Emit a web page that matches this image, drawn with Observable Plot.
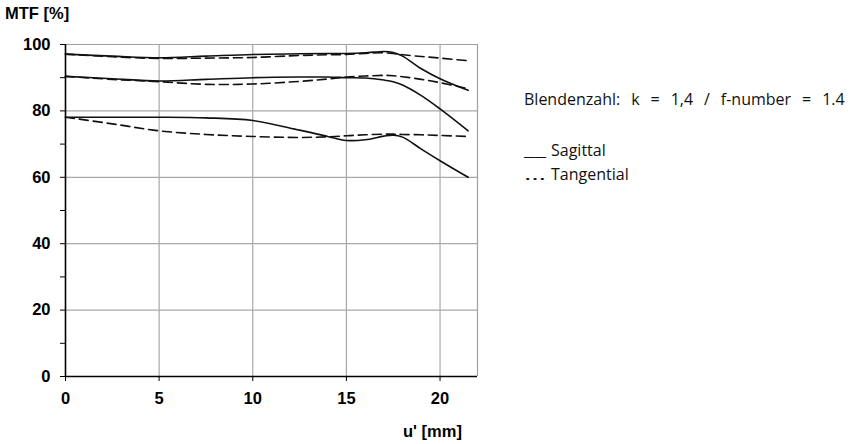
<!DOCTYPE html>
<html><head><meta charset="utf-8">
<script src="https://cdn.jsdelivr.net/npm/d3@7"></script>
<script src="https://cdn.jsdelivr.net/npm/@observablehq/plot@0.6"></script>
<style>
body{margin:0;background:#fff}
#wrap{position:relative;width:855px;height:444px;overflow:hidden}
.t{position:absolute;white-space:nowrap;color:#000;line-height:20px}
.leg{font-family:"Open Sans",sans-serif;font-size:16px;color:#111;word-spacing:6.8px}
.ax{font-family:"Liberation Sans",Arial,sans-serif;font-weight:bold;font-size:16.5px}
.sym{display:inline-block;width:22px;margin-right:5px;word-spacing:0}
.sym span{display:inline-block;transform-origin:0 0}
</style>
</head><body><div id="wrap"></div>
<script>
// image height positions u' [mm]
const u = [0, 2.5, 5, 7.5, 10, 12.5, 14, 15, 16, 17, 17.5, 18, 19, 20, 21.5];
// MTF values [%]
const sag1 = [97.1, 96.5, 96.0, 96.5, 97.0, 97.2, 97.3, 97.3, 97.5, 97.9, 97.6, 96.5, 92.7, 89.7, 86.2];
const tan1 = [97.1, 96.3, 95.8, 95.9, 96.1, 96.7, 96.9, 97.0, 97.3, 97.5, 97.3, 96.9, 96.4, 95.9, 95.1];
const sag2 = [90.4, 89.7, 89.0, 89.5, 90.0, 90.2, 90.2, 90.0, 89.9, 89.3, 88.8, 87.8, 84.6, 80.6, 74.0];
const tan2 = [90.4, 89.5, 88.8, 88.0, 88.1, 88.9, 89.6, 90.2, 90.5, 90.7, 90.6, 90.3, 89.5, 88.5, 86.7];
const sag3 = [78.1, 78.1, 78.1, 77.9, 77.1, 74.2, 72.3, 71.1, 71.3, 72.4, 72.7, 72.1, 68.5, 65.0, 60.0];
const tan3 = [78.1, 76.1, 74.0, 72.9, 72.3, 72.0, 72.2, 72.5, 72.8, 73.0, 73.0, 72.9, 72.8, 72.6, 72.3];

const xTicks = [0, 5, 10, 15, 20];
const xGrid = [5, 10, 15, 20];
const yTicks = [0, 10, 20, 30, 40, 50, 60, 70, 80, 90, 100];
const yGrid = [20, 40, 60, 80];
const xDomain = [0, 22];
const yDomain = [0, 100];

const series = [
  {name: "S1", type: "Sagittal", v: sag1},
  {name: "T1", type: "Tangential", v: tan1},
  {name: "S2", type: "Sagittal", v: sag2},
  {name: "T2", type: "Tangential", v: tan2},
  {name: "S3", type: "Sagittal", v: sag3},
  {name: "T3", type: "Tangential", v: tan3}
];
const rows = series.flatMap(s => s.v.map((y, i) => ({x: u[i], y, name: s.name, type: s.type})));
const sagRows = rows.filter(d => d.type === "Sagittal");
const tanRows = rows.filter(d => d.type === "Tangential");

const chart = Plot.plot({
  width: 855,
  height: 444,
  marginLeft: 65,
  marginRight: 378,
  marginTop: 44,
  marginBottom: 68,
  style: {fontFamily: "'Liberation Sans', Arial, sans-serif", fontSize: "16.5px", fontWeight: "bold", color: "#000", background: "#fff"},
  x: {domain: xDomain},
  y: {domain: yDomain},
  marks: [
    Plot.ruleX(xGrid, {stroke: "#a8a8a8", strokeWidth: 1.2}),
    Plot.ruleY(yGrid, {stroke: "#a8a8a8", strokeWidth: 1.2}),
    Plot.ruleY([yDomain[1]], {stroke: "#a0a0a0", strokeWidth: 1.2}),
    Plot.ruleX([xDomain[1]], {stroke: "#a0a0a0", strokeWidth: 1.2}),
    Plot.axisY({ticks: yTicks, tickSize: 5, tickPadding: 10, tickFormat: d => d % 20 === 0 ? String(d) : "", label: null, stroke: "#000"}),
    Plot.axisX({ticks: xTicks, tickSize: 5, tickPadding: 11, label: null, stroke: "#000"}),
    Plot.line(tanRows, {x: "x", y: "y", z: "name", curve: "catmull-rom", stroke: "#111", strokeWidth: 1.6, strokeDasharray: "9,5"}),
    Plot.line(sagRows, {x: "x", y: "y", z: "name", curve: "catmull-rom", stroke: "#111", strokeWidth: 1.6}),
    Plot.ruleX([xDomain[0]], {stroke: "#000", strokeWidth: 1.6}),
    Plot.ruleY([yDomain[0]], {stroke: "#000", strokeWidth: 1.6})
  ]
});
const wrap = document.getElementById("wrap");
wrap.appendChild(chart);

const labels = [
  {text: "MTF [%]", cls: "ax", left: 5, top: 3},
  {text: "u' [mm]", cls: "ax", left: 403, top: 421},
  {text: "Blendenzahl: k = 1,4 / f-number = 1.4", cls: "leg", left: 524, top: 89}
];
for (const l of labels) {
  const d = document.createElement("div");
  d.className = "t " + l.cls;
  d.style.left = l.left + "px";
  d.style.top = l.top + "px";
  d.textContent = l.text;
  wrap.appendChild(d);
}
const legendItems = [
  {sym: "__", text: "Sagittal", top: 140},
  {sym: "\u2026", text: "Tangential", top: 164}
];
for (const it of legendItems) {
  const d = document.createElement("div");
  d.className = "t leg";
  d.style.left = "524px";
  d.style.top = it.top + "px";
  const s = document.createElement("span");
  s.className = "sym";
  const inner = document.createElement("span");
  inner.textContent = it.sym;
  s.appendChild(inner);
  d.appendChild(s);
  d.appendChild(document.createTextNode(it.text));
  wrap.appendChild(d);
  const w = inner.getBoundingClientRect().width;
  inner.style.transform = `scaleX(${22 / w})`;
}
</script>
</body></html>
